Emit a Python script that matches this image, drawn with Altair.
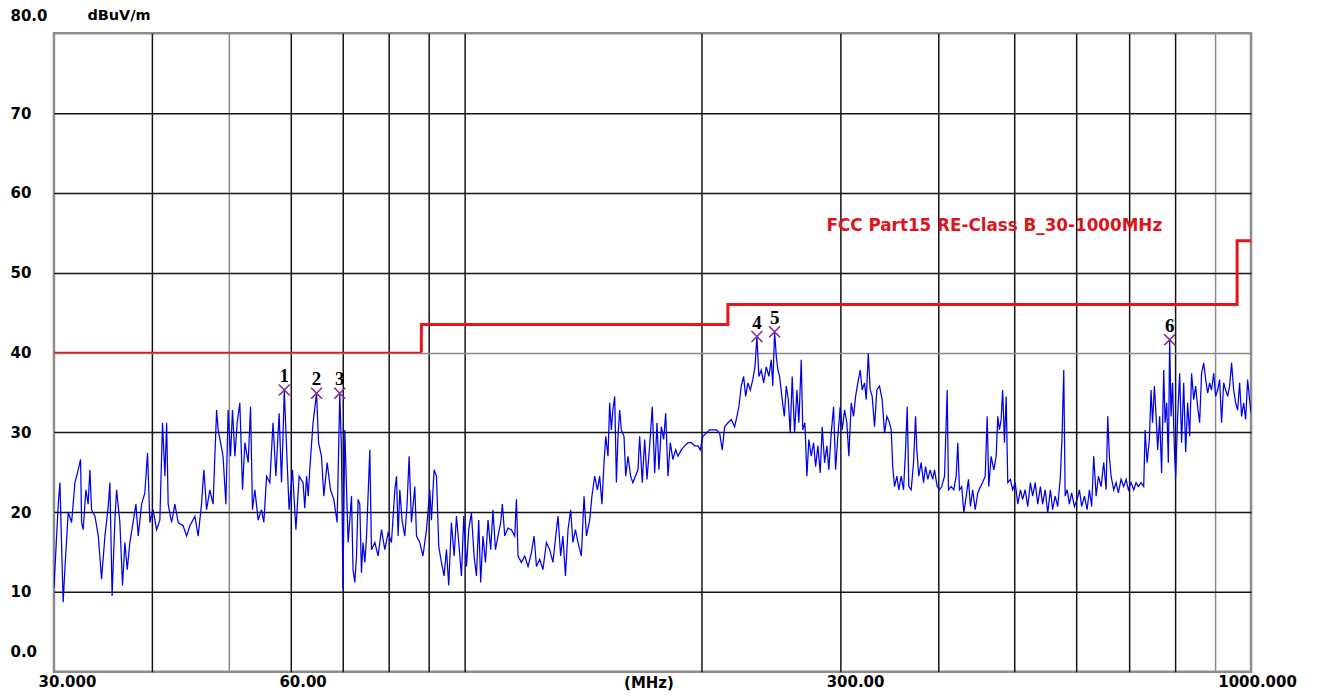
import altair as alt
import pandas as pd

# ---------------- data ----------------
trace_freq = [
    30.00, 30.38, 30.53, 30.68, 30.82, 30.98, 31.28, 31.59, 31.90, 32.21, 32.43, 32.53, 32.68, 32.94, 33.16,
    33.33, 33.49, 33.83, 34.16, 34.49, 34.83, 35.17, 35.34, 35.57, 35.86, 36.04, 36.39, 36.67, 36.93, 37.18,
    37.47, 37.82, 38.14, 38.40, 38.78, 39.15, 39.46, 39.73, 40.10, 40.52, 40.91, 41.23, 41.52, 41.73, 41.92,
    42.34, 42.75, 43.17, 43.79, 44.25, 44.67, 45.33, 45.77, 46.22, 46.54, 46.91, 47.36, 47.81, 48.31, 48.53,
    48.87, 49.23, 49.64, 49.97, 50.32, 50.61, 50.97, 51.31, 51.71, 52.12, 52.48, 52.99, 53.36, 53.66, 54.04,
    54.56, 55.10, 55.48, 55.92, 56.46, 56.99, 57.47, 58.02, 58.42, 58.68, 58.90, 59.40, 59.74, 60.33, 60.94,
    61.52, 62.23, 62.55, 62.87, 63.18, 63.48, 64.08, 64.74, 65.12, 65.68, 66.14, 66.78, 67.44, 68.10, 68.76,
    69.30, 69.64, 69.95, 70.33, 71.01,
    71.72, 72.04, 72.42, 72.78, 73.12, 73.48, 73.84, 74.17, 74.58, 74.95, 75.67, 76.04, 76.79, 77.53, 78.30,
    79.07, 79.83, 80.62, 81.43, 81.83, 82.21, 82.62, 83.16, 83.84, 84.41, 84.90, 85.49, 86.33, 86.76, 87.60,
    88.42, 89.34, 90.20, 90.64, 91.35, 91.99, 92.60, 93.33, 94.06, 94.72, 95.35, 96.10, 96.87, 97.54, 98.19,
    98.97, 99.65, 100.44, 101.10, 101.90, 102.70, 103.42, 104.11, 104.71, 105.40, 106.19, 106.99, 107.83,
    108.53, 109.34, 110.17, 111.03, 111.57, 112.36, 113.44, 114.56, 115.69, 116.27, 116.81, 117.97, 119.13,
    120.29, 121.47, 122.43, 123.29, 124.47, 125.65, 126.94, 128.17, 129.38, 130.46, 131.32, 132.35, 133.22,
    134.22, 135.23, 136.29, 137.18, 138.20, 139.24, 140.62, 141.73, 142.72, 144.09, 145.04, 146.23, 147.39,
    148.38, 149.35, 150.28, 151.02, 152.03, 152.78, 153.53, 154.22, 155.05, 155.82, 156.55, 157.32, 158.09,
    159.33, 160.13, 161.20, 162.45, 163.52, 164.74, 165.99,
    166.81, 168.10, 169.28, 170.43, 171.76, 173.09, 174.31, 175.50, 176.50, 177.74, 178.97, 180.03, 181.22,
    182.48, 183.84, 185.38, 186.61, 188.45, 190.31, 192.15, 194.05, 195.97, 197.86, 199.23, 200.71, 202.79,
    204.74, 206.67, 208.82, 210.83, 212.46, 213.96, 216.03, 218.16, 220.31, 221.80, 223.07, 224.63, 226.20,
    227.53, 229.05, 230.63, 232.35, 233.81, 235.18, 236.53, 238.18, 239.84, 241.73, 243.56, 245.26, 246.36,
    247.69, 248.92, 250.08, 251.32, 253.27, 254.83, 256.31, 257.81, 259.28, 260.78, 262.62, 264.40, 265.92,
    267.78, 268.98, 270.66, 272.26, 273.82, 275.73, 277.65, 279.29, 281.15, 283.09, 284.73, 286.73, 288.67,
    290.33, 292.36, 294.39, 296.13, 298.10, 300.16, 301.90, 304.02, 306.08, 307.84, 309.99, 312.14, 313.98,
    316.07, 318.26, 320.10, 322.35, 323.96, 325.86, 327.72, 329.62, 331.92, 334.17, 336.79, 339.40, 341.79,
    344.11, 346.80, 348.50, 350.07, 351.94, 354.32, 356.36, 358.85, 361.35, 363.48, 365.25, 366.95, 369.52,
    372.08, 374.28, 375.69, 377.85, 380.49, 383.14, 385.40, 387.97, 390.65, 393.56,
    395.66, 398.78, 401.46, 404.11, 407.42, 410.63, 412.17, 415.42, 418.69, 421.61, 423.58, 425.67, 428.48,
    431.13, 434.14, 437.03, 439.57, 442.46, 445.75, 449.12, 452.62, 455.59, 458.99, 461.64, 463.79, 467.03,
    470.70, 474.00, 476.21, 478.56, 480.91, 483.07, 485.65, 488.08, 490.35, 494.18, 497.42, 501.13, 504.92,
    508.86, 512.20, 516.02, 519.92, 523.98, 527.42, 531.35, 535.37, 539.55, 543.09, 547.13, 551.27, 555.57,
    559.22, 563.39, 567.65, 572.08, 574.89, 577.76, 580.13, 583.47, 587.40, 591.27, 596.11, 600.81, 604.85,
    608.83, 613.82, 618.66, 622.82, 626.92, 630.80, 635.21, 639.43, 644.47, 649.54, 654.09, 657.14, 660.38,
    663.63, 668.84, 673.52, 678.00, 683.34, 688.71, 693.53, 698.14, 703.64, 709.17, 714.13, 718.87, 724.54,
    730.24, 733.23, 737.46, 742.42, 746.07, 749.42, 753.44, 757.19, 760.73, 765.16, 769.52, 774.28, 777.45,
    781.08, 784.87, 787.89, 791.06, 794.62, 798.87, 801.90, 806.60, 811.30, 815.92, 820.97, 825.73, 830.57,
    835.40, 840.16, 845.35, 850.25, 855.23, 860.21, 865.11, 870.47, 875.52, 880.65, 885.78, 890.82, 896.33,
    901.52, 906.80, 912.09, 917.28, 922.96, 928.31, 933.75, 939.19, 944.54, 950.37, 955.88, 961.48, 967.09,
    972.59, 978.61, 984.28, 990.05, 995.82, 1000.00,
]
trace_level = [
    10.5, 21.0, 23.7, 15.7, 8.7, 13.0, 20.0, 18.7, 23.7, 25.3, 26.6, 18.7, 17.8, 22.8, 21.0,
    25.3, 20.3, 19.5, 17.0, 11.6, 17.0, 20.7, 23.7, 9.5, 19.0, 22.8, 18.7, 10.8, 16.2, 12.8,
    16.2, 18.7, 21.0, 17.0, 21.0, 22.4, 27.4, 18.7, 20.3, 17.8, 19.0, 31.2, 24.5, 31.2, 21.0,
    18.7, 21.0, 18.7, 18.3, 17.0, 18.3, 19.5, 17.0, 21.0, 25.3, 20.3, 22.8, 21.0, 32.8, 30.3,
    28.7, 27.0, 21.0, 32.8, 27.0, 32.8, 27.0, 31.2, 33.7, 22.8, 28.7, 26.2, 33.2, 20.3, 22.8,
    19.0, 20.3, 18.7, 24.5, 23.7, 31.2, 24.5, 32.4, 23.7, 29.5, 35.3, 26.2, 20.3, 25.3, 17.8,
    24.5, 23.7, 20.5, 24.5, 22.0, 25.5, 31.2, 34.9, 28.7, 27.0, 22.0, 26.2, 22.8, 21.6, 18.7,
    34.9, 27.8, 10.3, 30.3, 16.2,
    22.0, 12.8, 11.2, 14.5, 21.6, 21.0, 12.4, 16.2, 13.7, 17.0, 27.8, 15.3, 16.2, 14.5, 17.8,
    15.3, 17.4, 16.2, 22.8, 24.5, 17.0, 22.8, 19.0, 17.0, 21.0, 27.0, 18.7, 23.2, 17.0, 16.2,
    14.5, 17.8, 22.8, 19.0, 25.3, 24.5, 15.7, 13.7, 12.0, 15.3, 10.8, 18.7, 14.5, 19.5, 16.2,
    12.0, 19.5, 13.2, 17.8, 19.9, 14.5, 12.0, 19.0, 11.2, 17.0, 13.7, 19.0, 15.3,
    20.3, 15.3, 17.0, 18.7, 21.0, 17.0, 18.0, 17.8, 17.0, 21.6, 14.5, 13.7, 14.5,
    13.2, 14.9, 17.0, 13.2, 14.1, 12.8, 16.2, 15.3, 13.7, 17.0, 19.5, 14.5, 17.0,
    12.0, 17.8, 20.3, 16.2, 17.8, 16.2, 14.5, 22.0, 17.0, 19.0, 22.0, 24.5, 22.8,
    24.5, 21.0, 26.2, 29.5, 27.0, 33.7, 30.3, 32.8, 34.5, 23.7, 29.5, 32.8, 30.3,
    29.5, 24.5, 27.0, 24.5, 23.7, 24.5, 25.3,
    29.5, 23.7, 29.1, 24.1, 28.3, 33.2, 24.9, 31.2, 25.3, 30.7, 29.1, 32.4, 24.5,
    28.7, 26.6, 27.8, 27.0, 27.8, 28.3, 28.7, 28.7, 28.3, 28.3, 27.8, 29.5, 29.9,
    30.3, 30.3, 30.3, 29.9, 27.8, 30.7, 31.2, 31.6, 30.7, 32.0, 33.2, 35.8, 37.0,
    34.5, 36.2, 35.3, 36.6, 38.2, 42.0, 37.0, 37.8, 36.2, 38.2, 37.0, 39.1, 35.8,
    42.6, 39.5, 37.8, 37.0, 34.1, 32.0, 35.8, 34.1, 29.9, 37.0, 29.9, 35.3, 31.2,
    39.1, 30.3, 31.2, 24.5, 29.1, 27.0, 28.7, 25.7, 28.3, 24.9, 30.7, 26.2, 28.3,
    25.3, 29.9, 33.2, 25.3, 29.5, 33.2, 30.3, 32.8, 31.2, 27.0, 33.7, 32.0, 34.5,
    36.2, 37.8, 35.3, 36.2, 34.1, 39.9, 35.3, 34.5, 30.7, 35.3, 35.8, 34.1, 29.9,
    32.0, 31.2, 30.3, 25.7, 23.2, 24.5, 22.8, 24.5, 22.8, 27.8, 33.2, 23.2, 22.8,
    26.2, 32.0, 27.8, 24.5, 26.2, 23.7, 25.7, 24.1, 25.3, 24.1,
    25.3, 23.2, 22.8, 23.2, 24.5, 35.3, 22.8, 23.2, 22.8, 24.5, 28.7, 22.8, 23.2,
    19.9, 22.0, 24.1, 20.7, 22.8, 20.3, 22.4, 23.2, 23.7, 24.5, 32.0, 23.2, 27.0,
    25.3, 27.0, 32.0, 30.3, 31.6, 35.3, 28.7, 34.5, 23.7, 24.1, 22.8, 23.7, 21.0,
    22.8, 21.6, 22.8, 20.7, 23.7, 22.0, 23.7, 21.0, 23.2, 21.0, 22.8, 19.9, 22.8,
    20.3, 22.0, 20.7, 24.5, 29.5, 37.8, 22.0, 22.8, 21.0, 22.4, 20.7, 21.6, 22.8,
    20.7, 22.0, 20.3, 22.8, 20.7, 27.0, 22.0, 24.5, 23.2, 26.2, 22.8, 32.0, 27.0,
    24.5, 22.8, 23.7, 22.4, 24.1, 23.2, 24.1, 22.8, 23.7, 22.8, 23.7, 23.2, 23.7,
    23.2, 30.3, 26.2, 29.1, 35.3, 31.2, 35.8, 32.0, 27.8, 32.0, 24.9, 37.8, 31.2,
    33.7, 26.2, 41.6, 32.0, 36.2, 27.8, 24.5, 32.0, 37.4, 28.7, 36.2, 27.5, 33.7,
    29.5, 37.4, 34.1, 35.8, 33.2, 31.2, 37.4, 38.7, 36.6, 34.9, 36.2, 35.3, 37.4,
    34.5, 35.3, 36.6, 31.2, 36.2, 35.3, 34.5, 35.8, 38.7, 35.3, 33.7, 32.8, 36.2,
    32.0, 33.7, 31.6, 36.6, 34.1, 32.4,
]

# FCC Part15 Class B limit (step line)
limit_freq = [30, 88, 88, 216, 216, 960, 960, 1000]
limit_level = [40, 40, 43.5, 43.5, 46, 46, 54, 54]
limit_text = "FCC Part15 RE-Class B_30-1000MHz"
limit_text_freq = [288.4]
limit_text_level = [55.8]

# marked peaks
peak_freq = [58.90, 64.74, 69.30, 235.18, 247.69, 787.89]
peak_level = [35.3, 34.9, 34.9, 42.0, 42.6, 41.6]
peak_label = ["1", "2", "3", "4", "5", "6"]

# axes
x_grid_values = [30, 40, 50, 60, 70, 80, 90, 100, 200, 300, 400, 500, 600, 700, 800, 900, 1000]
y_values = [0, 10, 20, 30, 40, 50, 60, 70, 80]

# ---------------- frames ----------------
trace_df = pd.DataFrame({"freq": trace_freq, "level": trace_level})

rows = []
for i in range(2):
    rows.append({"freq": limit_freq[i], "level": limit_level[i], "seg": "a", "i": i})
for i in range(1, len(limit_freq)):
    rows.append({"freq": limit_freq[i], "level": limit_level[i], "seg": "b", "i": i})
limit_df = pd.DataFrame(rows)

peak_df = pd.DataFrame({"freq": peak_freq, "level": peak_level, "label": peak_label})
limit_text_df = pd.DataFrame({"freq": limit_text_freq, "level": limit_text_level, "text": [limit_text]})

FONT = "DejaVu Sans"

x_scale = alt.Scale(type="log", domain=[30, 1000], nice=False)
y_scale = alt.Scale(domain=[0, 80], nice=False, zero=False)

x_axis = alt.Axis(
    values=x_grid_values,
    labelExpr="datum.value == 30 ? '30.000' : datum.value == 60 ? '60.00' : datum.value == 300 ? '300.00' : datum.value == 1000 ? '1000.000' : ''",
    grid=True,
    gridColor={"condition": {"test": "datum.value == 50 || datum.value == 900", "value": "#8a8a8a"}, "value": "#141414"},
    gridWidth=1.5,
    gridOpacity={"condition": {"test": "datum.value == 30 || datum.value == 1000", "value": 0}, "value": 1},
    ticks=False,
    tickSize=0,
    domain=False,
    labelFlush=False,
    labelOverlap=False,
    labelFont=FONT,
    labelFontSize=15,
    labelFontWeight="bold",
    labelColor="#000000",
    labelBaseline="top",
    labelAlign="center",
    labelPadding=3,
    labelOffset={"condition": [
        {"test": "datum.value == 30", "value": 13},
        {"test": "datum.value == 60", "value": 12},
        {"test": "datum.value == 300", "value": 15},
        {"test": "datum.value == 1000", "value": 6},
    ], "value": 0},
    title="(MHz)",
    titleFont=FONT,
    titleFontSize=15,
    titleFontWeight="bold",
    titleColor="#000000",
    titleBaseline="top",
    titleY=4,
    titleX=595,
)

y_axis = alt.Axis(
    values=y_values,
    labelExpr="datum.value == 80 ? '80.0' : datum.value == 0 ? '0.0' : datum.label",
    grid=True,
    gridColor={"condition": {"test": "datum.value == 40", "value": "#8a8a8a"}, "value": "#141414"},
    gridWidth=1.5,
    gridOpacity={"condition": {"test": "datum.value == 0 || datum.value == 80", "value": 0}, "value": 1},
    ticks=False,
    tickSize=0,
    domain=False,
    labelFont=FONT,
    labelFontSize=15,
    labelFontWeight="bold",
    labelColor="#000000",
    labelAlign="left",
    labelBaseline="middle",
    labelPadding=44,
    labelFlush=False,
    labelOverlap=False,
    labelOffset={"condition": [
        {"test": "datum.value == 80", "value": -18},
        {"test": "datum.value == 0", "value": -20},
    ], "value": 0},
    title="dBuV/m",
    titleFont=FONT,
    titleFontSize=14.5,
    titleFontWeight="bold",
    titleColor="#000000",
    titleAngle=0,
    titleAlign="left",
    titleBaseline="middle",
    titleX=33,
    titleY=-18,
)

trace = alt.Chart(trace_df).mark_line(color="#0000f0", strokeWidth=1.25, clip=True).encode(
    x=alt.X("freq:Q", scale=x_scale, axis=x_axis),
    y=alt.Y("level:Q", scale=y_scale, axis=y_axis),
)

limit = alt.Chart(limit_df).mark_line(color="#e8141c", clip=True).encode(
    x=alt.X("freq:Q", scale=x_scale),
    y=alt.Y("level:Q", scale=y_scale),
    detail="seg:N",
    order="i:Q",
    strokeWidth=alt.StrokeWidth("seg:N", scale=alt.Scale(domain=["a", "b"], range=[1.5, 3]), legend=None),
)

limit_label = alt.Chart(limit_text_df).mark_text(
    color="#dc1420", font=FONT, fontSize=16.8, fontWeight="bold", align="left", baseline="middle"
).encode(
    x=alt.X("freq:Q", scale=x_scale),
    y=alt.Y("level:Q", scale=y_scale),
    text="text:N",
)

markers = alt.Chart(peak_df).mark_point(
    shape="M-1,-1L1,1M1,-1L-1,1", size=121, filled=False, color="#8a2a8a", strokeWidth=1.6, opacity=1
).encode(
    x=alt.X("freq:Q", scale=x_scale),
    y=alt.Y("level:Q", scale=y_scale),
)

marker_labels = alt.Chart(peak_df).mark_text(
    font="Liberation Serif", fontSize=19, fontWeight="bold", color="#000000",
    align="center", baseline="alphabetic", dy=-8
).encode(
    x=alt.X("freq:Q", scale=x_scale),
    y=alt.Y("level:Q", scale=y_scale),
    text="label:N",
)

chart = alt.layer(trace, limit, limit_label, markers, marker_labels).properties(
    width=1198,
    height=639,
    autosize=alt.AutoSizeParams(type="none"),
    padding={"left": 46, "top": 25, "right": 60, "bottom": 28},
    background="#ffffff",
).configure_view(
    stroke="#8c8c8c",
    strokeWidth=2.5,
)

chart.save("out.html", embed_options={"renderer": "svg", "actions": False})
